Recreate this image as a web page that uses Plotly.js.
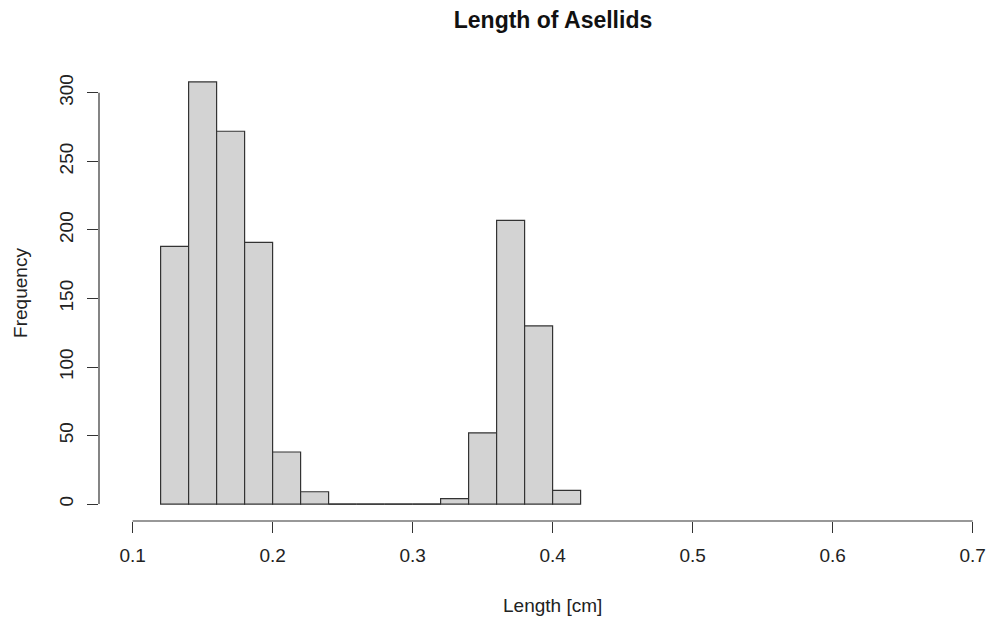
<!DOCTYPE html>
<html>
<head>
<meta charset="utf-8">
<script src="https://cdn.plot.ly/plotly-3.0.1.min.js"></script>
<style>
  html, body { margin: 0; padding: 0; background: #ffffff; }
  #chart { width: 987px; height: 617px; }
</style>
</head>
<body>
<div id="chart"></div>
<script>
// ---- data ----
const binStart = 0.12;
const binWidth = 0.02;
const counts = [188, 308, 272, 191, 38, 9, 0, 0, 0, 0, 4, 52, 207, 130, 10];
const xTickVals = [0.1, 0.2, 0.3, 0.4, 0.5, 0.6, 0.7];
const xTickText = ["0.1", "0.2", "0.3", "0.4", "0.5", "0.6", "0.7"];
const yTickVals = [0, 50, 100, 150, 200, 250, 300];
const yTickText = ["0", "50", "100", "150", "200", "250", "300"];
const titleText = "Length of Asellids";
const xTitle = "Length [cm]";
const yTitle = "Frequency";

// ---- derived ----
const centers = counts.map((c, i) => binStart + binWidth * (i + 0.5));
const widths = counts.map(() => binWidth);

// zero-count bins: R still draws their (flat) outline on the baseline
const zx = [], zy = [];
counts.forEach((c, i) => {
  if (c === 0) {
    zx.push(binStart + binWidth * i, binStart + binWidth * (i + 1), null);
    zy.push(0, 0, null);
  }
});

const FONT = "Liberation Sans, Arial, sans-serif";
const edge = "#333333";

const bars = {
  type: "bar",
  x: centers,
  y: counts,
  width: widths,
  marker: { color: "#D3D3D3", line: { color: edge, width: 1.2 } },
  hoverinfo: "x+y",
  showlegend: false
};
const zeroLine = {
  type: "scatter",
  mode: "lines",
  x: zx,
  y: zy,
  line: { color: edge, width: 1.2 },
  hoverinfo: "skip",
  showlegend: false,
  connectgaps: false
};

// R style: xlim = (0.1, 0.7), ylim = (0, max) each padded by 4%
const xlo = 0.1 - 0.04 * 0.6;
const ymax = Math.max(...counts);
const ylo = -0.04 * ymax, yhi = ymax * 1.04;

const layout = {
  width: 987,
  height: 617,
  margin: { l: 99, r: 0, t: 65, b: 96, pad: 0 },
  paper_bgcolor: "#ffffff",
  plot_bgcolor: "#ffffff",
  font: { family: FONT, size: 19, color: "#222222" },
  title: {
    text: "<b>" + titleText + "</b>",
    font: { family: FONT, size: 23, color: "#111111" },
    xref: "container", x: 553 / 987, xanchor: "center",
    yref: "container", y: 1 - 20 / 617, yanchor: "middle"
  },
  bargap: 0,
  xaxis: {
    range: [xlo, xlo + 888 / 1400],
    tickmode: "array",
    tickvals: xTickVals,
    ticktext: xTickText,
    ticks: "outside",
    ticklen: 11,
    tickwidth: 1,
    tickcolor: edge,
    showline: false,
    showgrid: false,
    zeroline: false,
    fixedrange: true,
    ticklabelstandoff: 6,
    tickfont: { family: FONT, size: 19, color: "#222222" }
  },
  yaxis: {
    range: [ylo, yhi],
    tickmode: "array",
    tickvals: yTickVals,
    ticktext: yTickText,
    tickangle: -90,
    ticks: "outside",
    ticklen: 11,
    tickwidth: 1,
    tickcolor: edge,
    showline: false,
    showgrid: false,
    zeroline: false,
    fixedrange: true,
    ticklabelstandoff: 6,
    tickfont: { family: FONT, size: 19, color: "#222222" },
    title: { text: yTitle, font: { family: FONT, size: 19, color: "#222222" }, standoff: 23 }
  },
  shapes: [
    { type: "line", xref: "x", yref: "paper", x0: xTickVals[0], x1: xTickVals[xTickVals.length - 1], y0: 0, y1: 0,
      line: { color: edge, width: 1.2 } },
    { type: "line", xref: "paper", yref: "y", x0: 0, x1: 0, y0: yTickVals[0], y1: yTickVals[yTickVals.length - 1],
      line: { color: edge, width: 1.2 } }
  ],
  annotations: [
    { text: xTitle, xref: "x", x: (xTickVals[0] + xTickVals[xTickVals.length - 1]) / 2, yref: "paper", y: 0,
      yanchor: "middle", yshift: -84, showarrow: false,
      font: { family: FONT, size: 19, color: "#222222" } }
  ]
};

Plotly.newPlot("chart", [bars, zeroLine], layout, { displayModeBar: false, staticPlot: true });
</script>
</body>
</html>
